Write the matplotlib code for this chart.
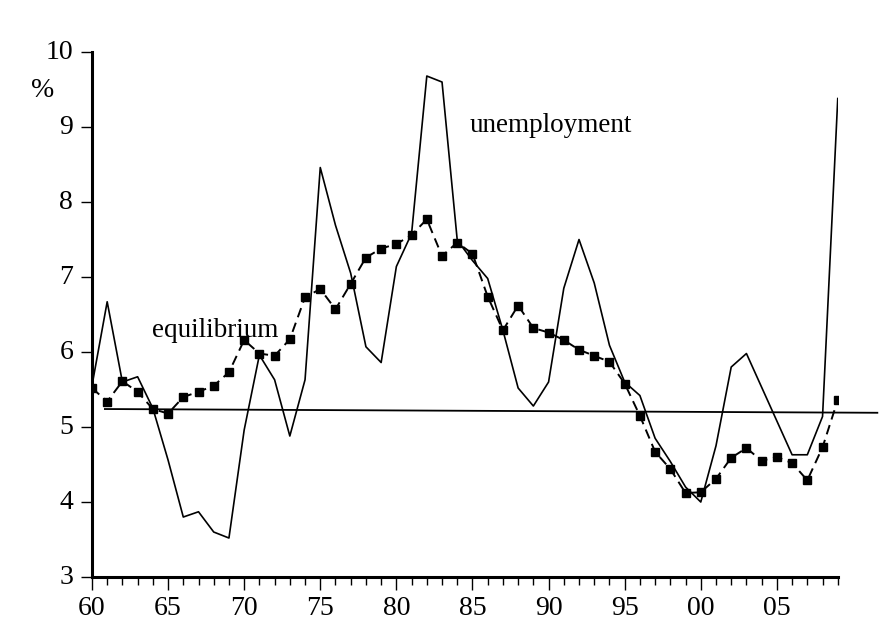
import matplotlib
matplotlib.use("Agg")
import matplotlib.pyplot as plt
import matplotlib.transforms as mtransforms
from matplotlib.ticker import MultipleLocator, FuncFormatter

years = list(range(1960, 2010))

unemployment = [5.55, 6.67, 5.60, 5.67, 5.25, 4.56, 3.80, 3.87, 3.60, 3.52,
                4.96, 5.96, 5.63, 4.88, 5.63, 8.46, 7.69, 7.05, 6.07, 5.86,
                7.14, 7.58, 9.68, 9.60, 7.49, 7.22, 6.98, 6.29, 5.52, 5.28,
                5.60, 6.85, 7.50, 6.92, 6.09, 5.60, 5.42, 4.85, 4.54, 4.20,
                4.00, 4.75, 5.80, 5.98, 5.53, 5.08, 4.63, 4.63, 5.14, 9.38]

equilibrium = [5.52, 5.34, 5.61, 5.47, 5.24, 5.18, 5.40, 5.47, 5.55, 5.73,
               6.16, 5.98, 5.95, 6.17, 6.73, 6.84, 6.57, 6.91, 7.26, 7.38,
               7.44, 7.56, 7.77, 7.28, 7.46, 7.31, 6.74, 6.29, 6.62, 6.32,
               6.26, 6.16, 6.03, 5.95, 5.87, 5.58, 5.15, 4.67, 4.44, 4.12,
               4.13, 4.31, 4.59, 4.72, 4.55, 4.60, 4.52, 4.29, 4.73, 5.36]

trend_years = [1960.85, 2011.6]
trend_values = [5.24, 5.19]

y_ticks = [3, 4, 5, 6, 7, 8, 9, 10]
x_major_ticks = [1960, 1965, 1970, 1975, 1980, 1985, 1990, 1995, 2000, 2005]

FONT = "Liberation Serif"
FS = 20

fig = plt.figure(figsize=(8.8, 6.23), dpi=100)
ax = fig.add_axes([0.1045, 0.0738, 0.8475, 0.8427])

ax.plot(years, unemployment, color="black", linewidth=1.2, zorder=3)
ax.plot(years, equilibrium, color="black", linewidth=1.4, linestyle=(0, (5, 3)),
        marker="s", markersize=5.5, markerfacecolor="black", markeredgecolor="black",
        zorder=4)
ax.plot(trend_years, trend_values, color="black", linewidth=1.3, clip_on=False, zorder=2)

ax.set_xlim(1960, 2009)
ax.set_ylim(3, 10)

ax.set_yticks(y_ticks)
ax.set_yticklabels([str(v) for v in y_ticks], fontfamily=FONT, fontsize=FS)
ax.set_xticks(x_major_ticks)
ax.xaxis.set_major_formatter(FuncFormatter(lambda v, p: "%02d" % (int(round(v)) % 100)))
ax.xaxis.set_minor_locator(MultipleLocator(1))
for lab in ax.get_xticklabels():
    lab.set_fontfamily(FONT)
    lab.set_fontsize(FS)

ax.tick_params(axis="y", direction="out", length=8, width=1.0, pad=5.5)
ax.tick_params(axis="x", which="major", direction="out", length=9.5, width=1.0, pad=4.5)
ax.tick_params(axis="x", which="minor", direction="out", length=6, width=1.0)

# raise y tick labels slightly
offset = mtransforms.ScaledTranslation(0, 3 / 100, fig.dpi_scale_trans)
for lab in ax.get_yticklabels():
    lab.set_transform(lab.get_transform() + offset)

for side in ["top", "right"]:
    ax.spines[side].set_visible(False)
for side in ["left", "bottom"]:
    ax.spines[side].set_linewidth(2.2)

ax.text(1963.94, 6.2, "equilibrium", fontfamily=FONT, fontsize=19.5,
        ha="left", va="baseline")
ax.text(1984.84, 8.93, "unemployment", fontfamily=FONT, fontsize=19.5,
        ha="left", va="baseline")
fig.text(0.049, 0.855, "%", fontfamily=FONT, fontsize=FS, ha="center", va="center")

fig.savefig("out.png", dpi=100)
